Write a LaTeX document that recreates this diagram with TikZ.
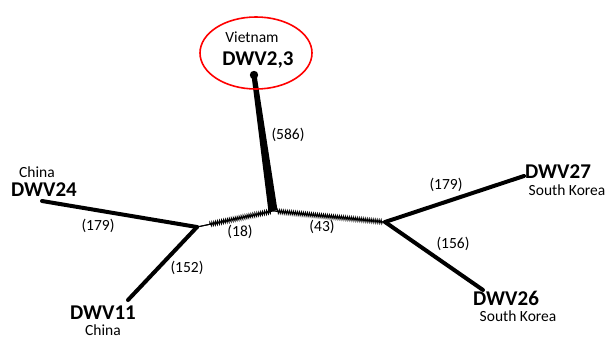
\documentclass[tikz,border=0pt]{standalone}
\usepackage{fontspec}
\setmainfont{Carlito}
\usetikzlibrary{calc,decorations.pathmorphing,shapes.geometric}
\begin{document}
\begin{tikzpicture}[x=1pt,y=-1pt,
  branch/.style={line width=4pt,line cap=round},
  hatch/.style={line width=1pt,decorate,decoration={zigzag,amplitude=1.8pt,segment length=2pt,pre length=#1,post length=2pt}},
  hatch/.default=2pt,
  tiplab/.style={font=\fontsize{21}{23}\selectfont\bfseries,inner sep=0pt},
  placelab/.style={font=\fontsize{15.5}{17}\selectfont,inner sep=0pt},
  numlab/.style={font=\fontsize{15.5}{17}\selectfont,inner sep=0pt}]
\useasboundingbox (0,0) rectangle (609,339);
% internal nodes and tips
\coordinate (C) at (273,211);
\coordinate (L) at (197,227);
\coordinate (R) at (385,222);
\coordinate (tV) at (254,75);
\coordinate (t24) at (42,201);
\coordinate (t11) at (128,300);
\coordinate (t27) at (524,176);
\coordinate (t26) at (483,290);
% tapered Vietnam branch
\fill (256.5,74.6) -- (277.5,210.3) -- (268.5,211.7) -- (251.5,75.4) -- cycle;
\fill (tV) circle (4.2pt);
% outer branches
\draw[branch] (L) -- (t24);
\draw[branch] (L) -- (t11);
\draw[branch] (R) -- (t27);
\draw[branch] (R) -- (t26);
% hatched internal branches
\draw[line width=1pt] (L) -- ($(L)!13pt!(C)$);
\draw[hatch=13pt] (L) -- (C);
\draw[hatch=4pt] (C) -- (R);
% labels
\node[placelab] (lV) at (252,37) {Vietnam};
\node[tiplab] (nV) at (258,60) {DWV2,3};
\node[draw=red,line width=1.6pt,ellipse,minimum width=112pt,minimum height=72pt] (ring) at (256,53) {};
\node[numlab] (b586) at (288,135) {(586)};
\node[placelab] (l24) at (37,172) {China};
\node[tiplab] (n24) at (44,190) {DWV24};
\node[numlab] (b179a) at (98,226) {(179)};
\node[numlab] (b152) at (187,268) {(152)};
\node[numlab] (b18) at (240,232) {(18)};
\node[numlab] (b43) at (322,227) {(43)};
\node[numlab] (b179b) at (446,185) {(179)};
\node[numlab] (b156) at (453,244) {(156)};
\node[tiplab] (n27) at (558,172) {DWV27};
\node[placelab] (l27) at (567,190) {South Korea};
\node[tiplab] (n26) at (506,298) {DWV26};
\node[placelab] (l26) at (518,316) {South Korea};
\node[tiplab] (n11) at (103,313) {DWV11};
\node[placelab] (l11) at (103,330) {China};
\end{tikzpicture}
\end{document}
